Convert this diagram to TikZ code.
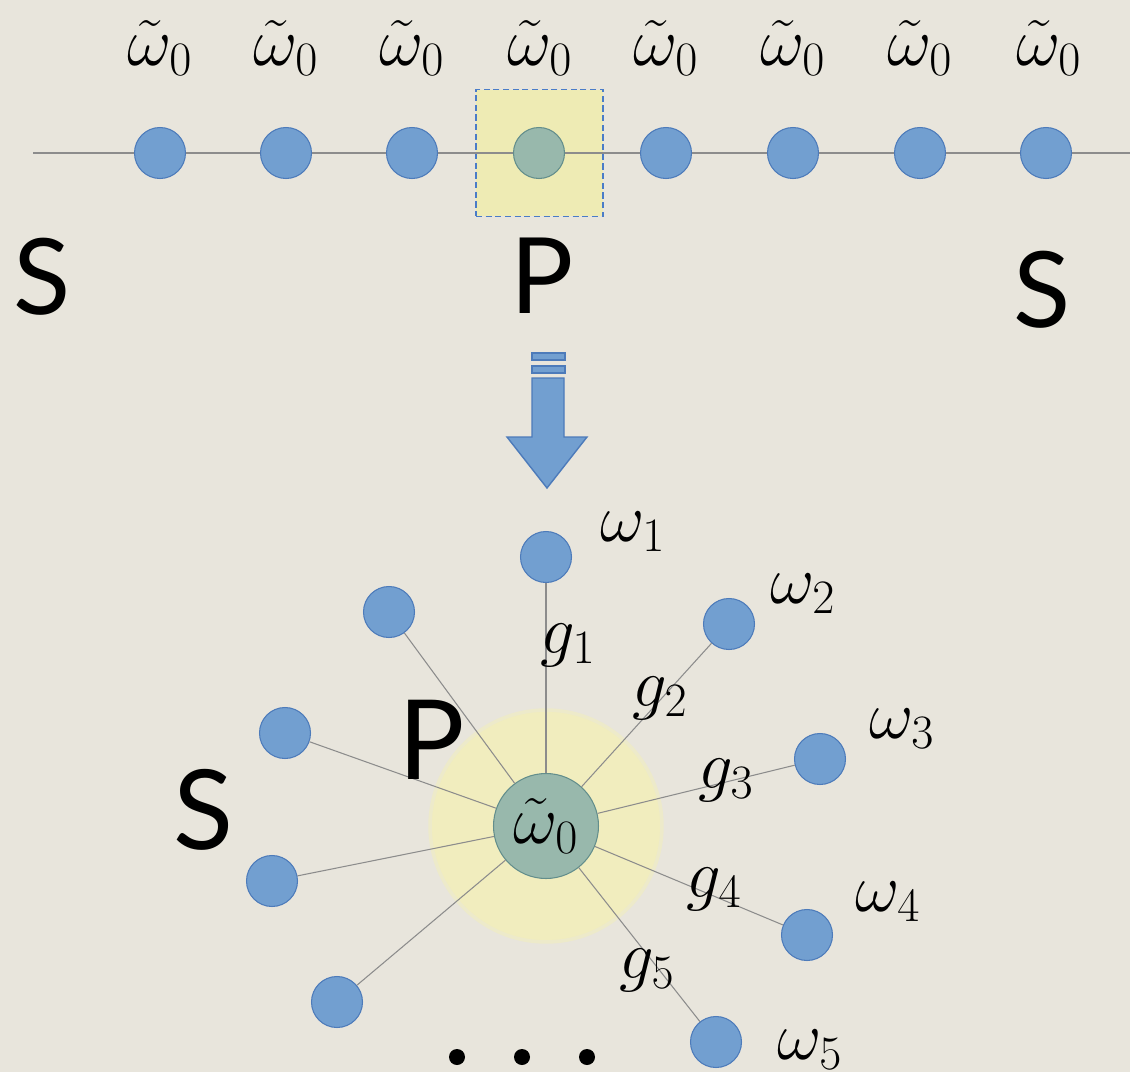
\documentclass[tikz,border=0pt]{standalone}
\usepackage{fix-cm}
\usepackage{fontspec}
\newfontfamily\letterfont{Lato}
\usepackage{xcolor}
\definecolor{paper}{HTML}{E8E5DC}
\definecolor{dotfill}{HTML}{729FD0}
\definecolor{dotedge}{HTML}{4D7BBA}
\definecolor{hubfill}{HTML}{98B8AC}
\definecolor{hubedge}{HTML}{638E8C}
\definecolor{boxfill}{HTML}{EEEBB4}
\definecolor{boxedge}{HTML}{4A7CC8}
\definecolor{glowin}{HTML}{F1EDBE}
\usepackage{tikz}

\begin{document}
\begin{tikzpicture}[
		x=0.02cm, y=-0.02cm,
		dot/.style={
			circle,
			draw=dotedge,
			fill=dotfill,
			line width=0.6pt,
			minimum size=1.02cm,
			inner sep=0pt
		},
		hub/.style={
			circle,
			draw=hubedge,
			fill=hubfill,
			line width=0.6pt,
			minimum size=2.1cm,
			inner sep=0pt
		},
		glow/.style={
			circle,
			fill=glowin,
			draw=glowin!60!paper,
			line width=2pt,
			minimum size=4.64cm,
			inner sep=0pt
		},
		pbox/.style={
			draw=boxedge,
			fill=boxfill,
			dash pattern=on 3.5pt off 2pt,
			line width=0.8pt,
			minimum size=2.54cm,
			inner sep=0pt
		},
		lab/.style={
			font=\fontsize{39}{42}\selectfont,
			inner sep=0pt
		},
		big/.style={
			font=\letterfont\fontsize{60}{64}\selectfont,
			inner sep=0pt
		},
		link/.style={
			draw=black!45,
			line width=0.6pt
		},
		flow/.style={
			draw=dotedge,
			fill=dotfill,
			line width=0.8pt
		},
		pip/.style={
			circle,
			fill=black,
			minimum size=0.32cm,
			inner sep=0pt
		}
	]
	
	% Paper
	\useasboundingbox (0,0) rectangle (1130,1072);
	\fill[paper] (0,0) rectangle (1130,1072);
	
	% Chain of sites
	\node[pbox] (box) at (539.5,153) {};
	\coordinate (lend) at (33,153);
	\coordinate (rend) at (1130,153);
	\node[dot] (t1) at (160,153) {};
	\node[dot] (t2) at (286,153) {};
	\node[dot] (t3) at (412,153) {};
	\node[dot, fill=hubfill, draw=hubedge] (t4) at (539,153) {};
	\node[dot] (t5) at (666,153) {};
	\node[dot] (t6) at (793,153) {};
	\node[dot] (t7) at (920,153) {};
	\node[dot] (t8) at (1046,153) {};
	
	\foreach \a/\b in {lend/t1, t1/t2, t2/t3, t3/t4, t4/t5, t5/t6, t6/t7, t7/t8, t8/rend}
		\draw[link] (\a) -- (\b);
	
	% Site frequencies
	\node[lab] (f1) at (160,48) {$\tilde{\omega}_0$};
	\node[lab] (f2) at (286,48) {$\tilde{\omega}_0$};
	\node[lab] (f3) at (412,48) {$\tilde{\omega}_0$};
	\node[lab] (f4) at (540,48) {$\tilde{\omega}_0$};
	\node[lab] (f5) at (666,48) {$\tilde{\omega}_0$};
	\node[lab] (f6) at (793,48) {$\tilde{\omega}_0$};
	\node[lab] (f7) at (920,48) {$\tilde{\omega}_0$};
	\node[lab] (f8) at (1049,48) {$\tilde{\omega}_0$};
	
	\node[big] (sl) at (42,277) {S};
	\node[big] (pm) at (542,276) {P};
	\node[big] (sr) at (1042,290) {S};
	
	% Arrow down
	\filldraw[flow] (532,353) rectangle (565,360);
	\filldraw[flow] (532,366) rectangle (565,373);
	\filldraw[flow] (532,378) -- (564,378) -- (564,437) -- (587,437)
		-- (547,488) -- (507,437) -- (532,437) -- cycle;
	
	% Star around the chosen site
	\node[glow] (halo) at (546,826) {};
	\node[hub, lab] (hub) at (546,826) {$\tilde{\omega}_0$};
	
	\node[dot] (w1) at (546,557) {};
	\node[dot] (w2) at (729,624) {};
	\node[dot] (w3) at (820,759) {};
	\node[dot] (w4) at (807,935) {};
	\node[dot] (w5) at (716,1042) {};
	\node[dot] (v1) at (389,612) {};
	\node[dot] (v2) at (285,733) {};
	\node[dot] (v3) at (272,881) {};
	\node[dot] (v4) at (337,1002) {};
	
	\foreach \n in {w1, w2, w3, w4, w5, v1, v2, v3, v4}
		\draw[link] (hub) -- (\n);
	
	% Labels of the star
	\node[lab] (o1) at (633,532) {$\omega_1$};
	\node[lab] (o2) at (803,594) {$\omega_2$};
	\node[lab] (o3) at (902,729) {$\omega_3$};
	\node[lab] (o4) at (888,902) {$\omega_4$};
	\node[lab] (o5) at (810,1050) {$\omega_5$};
	
	\node[lab] (g1) at (568,645) {$g_1$};
	\node[lab] (g2) at (660,698) {$g_2$};
	\node[lab] (g3) at (726,780) {$g_3$};
	\node[lab] (g4) at (714,889) {$g_4$};
	\node[lab] (g5) at (647,970) {$g_5$};
	
	\node[big, font=\letterfont\fontsize{63}{66}\selectfont] (pc) at (432,740) {P};
	\node[big, font=\letterfont\fontsize{63}{66}\selectfont] (sc) at (204,810) {S};
	
	% More neighbours
	\node[pip] (e1) at (457,1057) {};
	\node[pip] (e2) at (522,1057) {};
	\node[pip] (e3) at (587,1057) {};
	
\end{tikzpicture}
\end{document}
